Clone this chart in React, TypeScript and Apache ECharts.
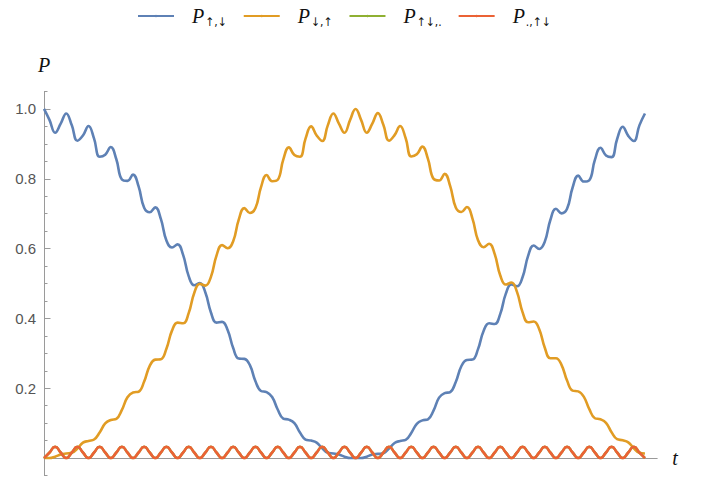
import React, { useEffect, useRef } from "react";
import * as echarts from "echarts";

// Series names and their subscripts (legend text)
const seriesNames = ["P↑,↓", "P↓,↑", "P↑↓,.", "P.,↑↓"];
const subscripts = ["↑,↓", "↓,↑", "↑↓,.", ".,↑↓"];
const colors = ["#5E81B5", "#E19C24", "#8FB032", "#EB6235"];

// samples are taken every quarter of the fast oscillation period (t in fast periods)
const T_STEP = 0.25;

// P(up, down), 4 samples per fast period
const pUpDown = [
  1.0, 0.968, 0.932, 0.958,
  0.987, 0.953, 0.909, 0.924,
  0.951, 0.915, 0.863, 0.869,
  0.891, 0.856, 0.798, 0.794,
  0.812, 0.778, 0.717, 0.704,
  0.718, 0.685, 0.623, 0.603,
  0.612, 0.582, 0.521, 0.495,
  0.501, 0.474, 0.417, 0.388,
  0.39, 0.367, 0.315, 0.285,
  0.284, 0.266, 0.22, 0.192,
  0.189, 0.175, 0.139, 0.113,
  0.11, 0.1, 0.073, 0.053,
  0.05, 0.044, 0.028, 0.015,
  0.013, 0.01, 0.004, 0.0,
  0.0, 0.0, 0.004, 0.01,
  0.012, 0.014, 0.027, 0.043,
  0.049, 0.052, 0.072, 0.098,
  0.108, 0.111, 0.136, 0.173,
  0.186, 0.189, 0.218, 0.263,
  0.281, 0.282, 0.312, 0.364,
  0.386, 0.384, 0.413, 0.471,
  0.497, 0.492, 0.518, 0.579,
  0.609, 0.599, 0.62, 0.682,
  0.714, 0.701, 0.714, 0.775,
  0.809, 0.792, 0.796, 0.854,
  0.889, 0.867, 0.862, 0.914,
  0.949, 0.923, 0.908, 0.953,
  0.987,
];

// P(down, up)
const pDownUp = [
  0.0, 0.0, 0.004, 0.01,
  0.013, 0.015, 0.027, 0.044,
  0.049, 0.053, 0.073, 0.099,
  0.109, 0.112, 0.138, 0.174,
  0.188, 0.19, 0.219, 0.264,
  0.282, 0.283, 0.313, 0.365,
  0.388, 0.386, 0.415, 0.473,
  0.499, 0.494, 0.519, 0.58,
  0.61, 0.601, 0.621, 0.683,
  0.716, 0.702, 0.716, 0.776,
  0.811, 0.793, 0.797, 0.855,
  0.89, 0.868, 0.863, 0.915,
  0.95, 0.924, 0.908, 0.953,
  0.987, 0.958, 0.932, 0.968,
  1.0, 0.968, 0.932, 0.958,
  0.988, 0.954, 0.909, 0.925,
  0.951, 0.916, 0.864, 0.87,
  0.892, 0.857, 0.8, 0.795,
  0.814, 0.779, 0.718, 0.705,
  0.719, 0.686, 0.624, 0.604,
  0.614, 0.584, 0.523, 0.497,
  0.503, 0.476, 0.418, 0.389,
  0.391, 0.369, 0.316, 0.286,
  0.286, 0.267, 0.222, 0.193,
  0.191, 0.176, 0.14, 0.114,
  0.111, 0.101, 0.074, 0.054,
  0.051, 0.045, 0.028, 0.015,
  0.013,
];

// P(updown, .) — doubly occupied left site
const pDoubleLeft = [
  0, 0.016, 0.032, 0.016, 0, 0.016, 0.032, 0.016, 0, 0.016, 0.032, 0.016,
  0, 0.016, 0.032, 0.016, 0, 0.016, 0.032, 0.016, 0, 0.016, 0.032, 0.016,
  0, 0.016, 0.032, 0.016, 0, 0.016, 0.032, 0.016, 0, 0.016, 0.032, 0.016,
  0, 0.016, 0.032, 0.016, 0, 0.016, 0.032, 0.016, 0, 0.016, 0.032, 0.016,
  0, 0.016, 0.032, 0.016, 0, 0.016, 0.032, 0.016, 0, 0.016, 0.032, 0.016,
  0, 0.016, 0.032, 0.016, 0, 0.016, 0.032, 0.016, 0, 0.016, 0.032, 0.016,
  0, 0.016, 0.032, 0.016, 0, 0.016, 0.032, 0.016, 0, 0.016, 0.032, 0.016,
  0, 0.016, 0.032, 0.016, 0, 0.016, 0.032, 0.016, 0, 0.016, 0.032, 0.016,
  0, 0.016, 0.032, 0.016, 0, 0.016, 0.032, 0.016, 0, 0.016, 0.032, 0.016,
  0,
];

// P(., updown) — doubly occupied right site
const pDoubleRight = [
  0, 0.016, 0.032, 0.016, 0, 0.016, 0.032, 0.016, 0, 0.016, 0.032, 0.016,
  0, 0.016, 0.032, 0.016, 0, 0.016, 0.032, 0.016, 0, 0.016, 0.032, 0.016,
  0, 0.016, 0.032, 0.016, 0, 0.016, 0.032, 0.016, 0, 0.016, 0.032, 0.016,
  0, 0.016, 0.032, 0.016, 0, 0.016, 0.032, 0.016, 0, 0.016, 0.032, 0.016,
  0, 0.016, 0.032, 0.016, 0, 0.016, 0.032, 0.016, 0, 0.016, 0.032, 0.016,
  0, 0.016, 0.032, 0.016, 0, 0.016, 0.032, 0.016, 0, 0.016, 0.032, 0.016,
  0, 0.016, 0.032, 0.016, 0, 0.016, 0.032, 0.016, 0, 0.016, 0.032, 0.016,
  0, 0.016, 0.032, 0.016, 0, 0.016, 0.032, 0.016, 0, 0.016, 0.032, 0.016,
  0, 0.016, 0.032, 0.016, 0, 0.016, 0.032, 0.016, 0, 0.016, 0.032, 0.016,
  0,
];

const majorTicks = [0, 0.2, 0.4, 0.6, 0.8, 1.0];
const tickLabels = [0.2, 0.4, 0.6, 0.8, 1.0];

const allSeries = [pUpDown, pDownUp, pDoubleLeft, pDoubleRight];

const AXIS_GRAY = "#9a9a9a";

export default function App() {
  const ref = useRef<HTMLDivElement>(null);

  useEffect(() => {
    if (!ref.current) return;
    const chart = echarts.init(ref.current, undefined, { renderer: "svg" });
    const option: any = {
      animation: false,
      legend: {
        left: 132,
        top: 1,
        itemWidth: 36,
        itemHeight: 3,
        itemGap: 16,
        data: seriesNames,
        formatter: (name: string) =>
          `{p|P}{s|${subscripts[seriesNames.indexOf(name)]}}`,
        textStyle: {
          rich: {
            p: {
              fontFamily: "Liberation Serif",
              fontStyle: "italic",
              fontSize: 20,
              color: "#111",
              padding: [0, 0, 0, 13],
            },
            s: {
              fontFamily: "DejaVu Sans Condensed, DejaVu Sans",
              fontSize: 12,
              color: "#111",
              padding: [11, 0, 0, 1],
            },
          },
        },
      },
      grid: { left: 44, right: 46.8, top: 91.5, bottom: 2.5 },
      xAxis: {
        type: "value",
        min: 0,
        max: 27.55,
        axisLine: { onZero: true, lineStyle: { color: AXIS_GRAY, width: 1 } },
        axisTick: { show: false },
        axisLabel: { show: false },
        splitLine: { show: false },
        name: "t",
        nameLocation: "end",
        nameGap: 15,
        nameTextStyle: {
          fontFamily: "Liberation Serif",
          fontStyle: "italic",
          fontSize: 20,
          color: "#111",
        },
      },
      yAxis: [
        {
          type: "value",
          min: -0.05,
          max: 1.05,
          interval: 0.05,
          axisLine: { show: true, onZero: false, lineStyle: { color: AXIS_GRAY, width: 1 } },
          axisTick: { show: true, inside: true, length: 3.5, lineStyle: { color: AXIS_GRAY } },
          axisLabel: {
            customValues: tickLabels,
            formatter: (v: number) => v.toFixed(1),
            color: "#555",
            fontSize: 15,
            fontFamily: "Liberation Sans",
            margin: 8,
          },
          splitLine: { show: false },
          name: "P",
          nameLocation: "end",
          nameGap: 17,
          nameTextStyle: {
            fontFamily: "Liberation Serif",
            fontStyle: "italic",
            fontSize: 20,
            color: "#111",
          },
        },
        {
          type: "value",
          min: -0.05,
          max: 1.05,
          position: "left",
          axisLine: { show: false, onZero: false },
          axisTick: {
            show: true,
            inside: true,
            length: 6.5,
            customValues: majorTicks,
            lineStyle: { color: AXIS_GRAY },
          },
          axisLabel: { show: false },
          splitLine: { show: false },
        },
      ],
      series: allSeries.map((arr, k) => ({
        name: seriesNames[k],
        type: "line",
        yAxisIndex: 0,
        data: arr.map((v, i) => [i * T_STEP, v]),
        smooth: k >= 2 ? 0.6 : 0.45,
        symbol: "none",
        showSymbol: false,
        color: colors[k],
        lineStyle: { color: colors[k], width: 2.6 },
        z: 2 + k,
      })),
    };
    chart.setOption(option);
    return () => chart.dispose();
  }, []);

  return (
    <div
      ref={ref}
      style={{ position: "fixed", left: 0, top: 0, width: 704, height: 478, background: "#fff" }}
    />
  );
}
